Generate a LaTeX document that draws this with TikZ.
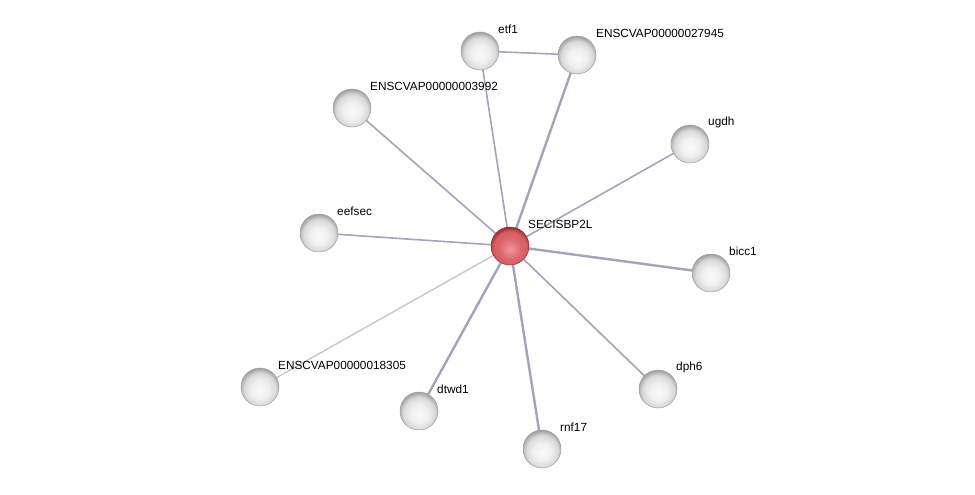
\documentclass[tikz,border=0pt]{standalone}
\usepackage{fontspec}
\setmainfont{Liberation Sans}
\usetikzlibrary{calc}
\definecolor{edgegray}{RGB}{162,164,184}
\definecolor{edgelight}{RGB}{196,198,208}
\definecolor{redlight}{RGB}{244,150,155}
\definecolor{redmid}{RGB}{214,92,98}
\definecolor{reddark}{RGB}{150,45,50}
% glossy spheres, lighter at the bottom, darker at the rim
\pgfdeclareradialshading{graysphere}{\pgfpoint{0bp}{-5bp}}{%
  color(0bp)=(gray!4); color(12bp)=(gray!12); color(21bp)=(gray!30);
  color(27bp)=(gray!75); color(50bp)=(gray!75)}
\pgfdeclareradialshading{redsphere}{\pgfpoint{0bp}{-5bp}}{%
  color(0bp)=(redlight); color(14bp)=(redmid!80!redlight); color(22bp)=(redmid);
  color(27bp)=(reddark); color(50bp)=(reddark)}
\tikzset{
  gloss/.style={ % white reflection on top of a sphere
    path picture={
      \fill[white, opacity=0.75]
        ($(path picture bounding box.north)+(0,-9)$) ellipse (11pt and 6pt);
    }
  },
  protein/.style={ % image of a gray interaction partner
    circle, minimum size=38pt, inner sep=0pt,
    shading=graysphere, gloss,
    draw=gray!75, line width=0.5pt
  },
  query/.style={  % image of the query protein
    circle, minimum size=38pt, inner sep=0pt,
    shading=redsphere, gloss,
    draw=reddark, line width=0.5pt
  },
  lbl/.style={
    anchor=west, inner sep=0pt, text=black,
    font=\fontsize{11.8}{14}\selectfont
  },
  link/.style={draw=edgegray, line width=1.6pt},
  strong/.style={draw=edgegray, line width=2.4pt},
  weak/.style={draw=edgelight, line width=1.4pt}
}
\begin{document}
\begin{tikzpicture}[x=1pt, y=-1pt]
  \useasboundingbox (0,0) rectangle (975,495);

  % positions of the spheres
  \coordinate (p_sec) at (510,246);
  \coordinate (p_etf) at (480,51);
  \coordinate (p_e279) at (577,55);
  \coordinate (p_e399) at (352,108);
  \coordinate (p_ugdh) at (690,144);
  \coordinate (p_eef) at (319,233);
  \coordinate (p_bicc) at (711,273);
  \coordinate (p_e183) at (260,387);
  \coordinate (p_dtwd) at (419,411);
  \coordinate (p_rnf) at (542,449);
  \coordinate (p_dph) at (658,389);

  % edges first, so the spheres sit on top
  \path[link] (p_etf) -- (p_e279);
  \path[link] (p_sec) -- (p_etf);
  \path[strong] (p_sec) -- (p_e279);
  \path[link] (p_sec) -- (p_e399);
  \path[link] (p_sec) -- (p_ugdh);
  \path[link] (p_sec) -- (p_eef);
  \path[strong] (p_sec) -- (p_bicc);
  \path[weak] (p_sec) -- (p_e183);
  \path[strong] (p_sec) -- (p_dtwd);
  \path[strong] (p_sec) -- (p_rnf);
  \path[link] (p_sec) -- (p_dph);

  \node[query] (sec) at (p_sec) {};
  \node[protein] (etf) at (p_etf) {};
  \node[protein] (e279) at (p_e279) {};
  \node[protein] (e399) at (p_e399) {};
  \node[protein] (ugdh) at (p_ugdh) {};
  \node[protein] (eef) at (p_eef) {};
  \node[protein] (bicc) at (p_bicc) {};
  \node[protein] (e183) at (p_e183) {};
  \node[protein] (dtwd) at (p_dtwd) {};
  \node[protein] (rnf) at (p_rnf) {};
  \node[protein] (dph) at (p_dph) {};

  \node[lbl] (sec_label) at ($(sec)+(18,-22)$) {SECISBP2L};
  \node[lbl] (etf_label) at ($(etf)+(18,-22)$) {etf1};
  \node[lbl] (e279_label) at ($(e279)+(19,-22)$) {ENSCVAP00000027945};
  \node[lbl] (e399_label) at ($(e399)+(18,-22)$) {ENSCVAP00000003992};
  \node[lbl] (ugdh_label) at ($(ugdh)+(18,-22)$) {ugdh};
  \node[lbl] (eef_label) at ($(eef)+(18,-22)$) {eefsec};
  \node[lbl] (bicc_label) at ($(bicc)+(18,-22)$) {bicc1};
  \node[lbl] (e183_label) at ($(e183)+(18,-22)$) {ENSCVAP00000018305};
  \node[lbl] (dtwd_label) at ($(dtwd)+(18,-22)$) {dtwd1};
  \node[lbl] (rnf_label) at ($(rnf)+(18,-22)$) {rnf17};
  \node[lbl] (dph_label) at ($(dph)+(18,-22)$) {dph6};
\end{tikzpicture}
\end{document}
